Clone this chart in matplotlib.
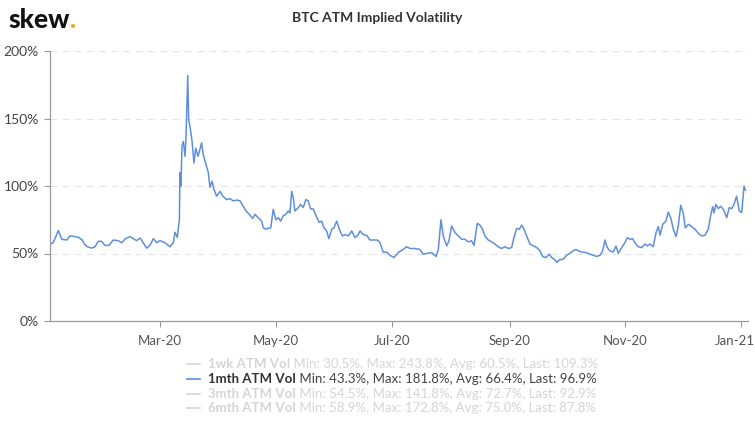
import numpy as np
import pandas as pd
import matplotlib
matplotlib.use("Agg")
import matplotlib.pyplot as plt
import matplotlib.dates as mdates
import matplotlib.transforms as mtransforms

plt.rcParams['font.family'] = ['Lato', 'DejaVu Sans']

# day offset from 2020-01-01 and 1mth ATM vol (%)
day = [2.1, 3.8, 6.5, 8.3, 10.9, 12.6, 15.3, 17, 19.1, 20.2, 21.7, 24, 25.8, 27.5, 29.3, 31, 33.2,
       35.4, 38, 39.8, 41.9, 44.2, 46, 47.7, 49.5, 51.6, 53, 54.7, 56.5, 58.3, 60, 62.6, 65.3,
       67, 67.9, 69.1, 70.2, 70.5, 71, 71.6, 72.3, 73.2, 73.7, 74.6, 75.1, 75.8, 76.8, 77.9, 78.8,
       80, 81, 81.9, 82.8, 84.2, 85.4, 86.3, 87.4, 88.4, 89.8, 91.6, 93, 95.1,
       96.8, 98.6, 100.4, 102.1, 103.8, 105.3, 107, 108.8, 110, 111.7, 113.5, 114.4, 115.8, 117,
       118.3, 119.6, 121, 122.3, 123.5, 124.9, 126.3, 127.5, 128.4, 129.3, 130.2, 131, 132.8, 134,
       135.4, 136.8, 138, 139.3, 140.7, 142.1, 143.8, 145.1, 146.3, 147.7, 148.9, 150.4, 151.6,
       153, 154.4, 156, 157.4, 159.1, 160.9, 162.6, 164.4,
       165.3, 167, 168.8, 170.5, 172.6, 174.4, 175.8, 177.5, 179.3, 181, 183.2, 185.4, 188, 189.8,
       191.6, 194.2, 196.8, 198.6, 200.4, 203, 205.3, 206.5, 207.9, 209.1, 210.9, 212.1, 213.5,
       215.3, 217, 218.8, 220.5, 222.3, 224, 225.3,
       227, 228.4, 229.8, 231, 232.8, 234.6, 236.3, 238.1, 239.8, 241.6, 243.3, 245.1, 246.3, 247.7,
       249.1, 250.4, 251.6, 253, 254.7, 256.5, 258.3, 260, 261.4, 263.2, 264.9, 266.2, 267.9, 268.9,
       270.2, 272.3, 274, 275.8, 277.5, 278.9, 280.2, 282, 284.2, 286.3, 288.1,
       289.8, 291.6, 293, 294.2, 295.4, 296.8, 298.6, 300, 301.2, 303, 304.7, 306, 307.4, 308.8,
       310, 311.7, 313.5, 315.3, 316.5, 317.9, 319.6, 321.1, 322.3, 323.2, 324.6, 326.3, 327.5,
       328.8, 330.2, 331.6, 332.8, 334.1, 335.4, 336.5, 338.1, 339.8, 341.6, 343.3, 345.1, 346.8,
       348.6, 349.8, 350.9, 351.6, 352.6, 353.8, 355.1, 356.5, 358.3, 359.6, 360.9, 362.1, 363.5,
       364.9, 366.2, 367.4, 368.1]
vol = [57, 58, 67, 60.5, 60, 63, 62.5, 62, 60, 57, 55, 54, 55, 59, 59, 56, 56,
       60, 59.5, 58, 61, 62.5, 61, 59.5, 61.5, 57, 54, 56, 61, 58, 59.5, 58, 55,
       58, 65.7, 62, 75, 110, 100, 129.5, 133, 122, 137, 181.8, 149, 144, 134, 117, 128,
       122, 127, 132, 123, 116, 110, 99, 103.6, 97.5, 92.5, 96, 92.5, 90,
       90.6, 89, 89.6, 89, 85, 81.5, 79, 76, 79, 76.5, 74, 69, 68, 68.7,
       69, 82.7, 75, 76.5, 74, 78, 79, 81.5, 80, 96, 91, 81.5, 84, 86.4,
       84, 90, 89, 83, 83, 78, 73, 74, 69, 66.7, 61, 68, 69,
       74, 68, 63, 64, 63, 66.7, 61.8, 64,
       66.7, 64, 63.5, 60, 60, 60, 58, 51, 51, 48.7, 47, 50.7, 53, 55,
       53.7, 53.7, 53, 49.5, 50, 50.7, 47.8, 53, 75, 63, 55.6, 59.4, 70.4,
       65.5, 63, 60.5, 60.5, 58.6, 59.4, 56,
       72.4, 71, 68, 63, 60, 58.6, 57, 55, 53.7, 55, 53.7, 54.4, 61.8, 68.5,
       68, 71, 68, 63, 57, 55.6, 54.4, 52, 47.8, 47, 49.5, 47, 45.3, 43.3,
       45.3, 45.8, 48.7, 50.2, 52, 53, 52, 51, 50.7, 49.5, 48.7,
       47.8, 48.7, 52, 60, 54.4, 52, 51, 55.6, 50.2, 54.4, 58, 61.8, 60.5, 61,
       58, 55, 54.4, 57, 55.6, 57, 55, 65.5, 70, 63.7, 71.6, 74, 80.7,
       76.6, 68, 62.6, 70.4, 85.7, 80, 69, 71.6, 70, 68, 65, 63, 63.5,
       68, 77.8, 84.7, 80, 86.4, 83.2, 85, 82.7, 76.6, 84, 83.2, 86.4, 92.5,
       81.5, 80.3, 100, 96.9]

legend_names = ['1wk ATM Vol', '1mth ATM Vol', '3mth ATM Vol', '6mth ATM Vol']
legend_stats = ['Min: 30.5%, Max: 243.8%, Avg: 60.5%, Last: 109.3%',
                'Min: 43.3%, Max: 181.8%, Avg: 66.4%, Last: 96.9%',
                'Min: 54.5%, Max: 141.8%, Avg: 72.7%, Last: 92.9%',
                'Min: 58.9%, Max: 172.8%, Avg: 75.0%, Last: 87.8%']
active = 1

dates = pd.Timestamp('2020-01-01') + pd.to_timedelta(day, unit='D')

fig = plt.figure(figsize=(7.55, 4.32), dpi=100)
ax = fig.add_axes([50/755, 1 - 321/432, 698/755, 270/432])

ax.plot(dates, vol, color='#5f8fdc', lw=1.1)

ax.set_ylim(0, 200)
ax.set_xlim(dates[0], pd.Timestamp('2020-01-01') + pd.Timedelta(days=369.5))
ax.set_yticks([0, 50, 100, 150, 200])
ax.set_yticklabels(['0%', '50%', '100%', '150%', '200%'])
ax.xaxis.set_major_locator(mdates.MonthLocator(bymonth=[1, 3, 5, 7, 9, 11]))
ax.xaxis.set_major_formatter(mdates.DateFormatter('%b-%y'))

for v in [50, 100, 150, 200]:
    ax.axhline(v, color='#e3e3e3', lw=0.8, ls=(0, (6, 5)), zorder=0)

for s in ['top', 'right']:
    ax.spines[s].set_visible(False)
for s in ['left', 'bottom']:
    ax.spines[s].set_color('#999999')
    ax.spines[s].set_linewidth(0.9)
ax.tick_params(axis='y', length=4, color='#999999', labelsize=10, labelcolor='#444444', pad=4)
ax.tick_params(axis='x', length=4, color='#999999', labelsize=9.5, labelcolor='#555555', pad=6)

# keep last month label inside the figure
fig.canvas.draw()
last = ax.get_xticklabels()[-1]
last.set_transform(last.get_transform() + mtransforms.ScaledTranslation(-7/100, 0, fig.dpi_scale_trans))

fig.text(0.5, 1 - 18/432, 'BTC ATM Implied Volatility', ha='center', va='center',
         fontsize=10, fontweight='bold', color='#333333')

logo = fig.text(8/755, 1 - 28/432, 'skew', ha='left', va='baseline', fontsize=19,
                fontweight='black', color='#111111')
ax.annotate('.', xy=(1, 0), xycoords=logo, xytext=(0.3, 0), textcoords='offset points',
            fontsize=19, fontweight='black', color='#f0a830', va='bottom', ha='left',
            annotation_clip=False)

rows_y = [364, 379, 394, 408]
for i, (name, stats) in enumerate(zip(legend_names, legend_stats)):
    yy = 1 - rows_y[i] / 432
    if i == active:
        lc, nc, sc = '#5f8fdc', '#333333', '#444444'
    else:
        lc, nc, sc = '#d5d5d5', '#d5d5d5', '#d5d5d5'
    fig.add_artist(plt.Line2D([187/755, 200/755], [yy, yy], color=lc, lw=1.2))
    t = fig.text(208/755, yy, name, ha='left', va='center', fontsize=9.5,
                 fontweight='bold', color=nc)
    ax.annotate(' ' + stats, xy=(1, 0.5), xycoords=t, ha='left', va='center',
                fontsize=9.5, color=sc, annotation_clip=False)

fig.savefig('out.png', dpi=100)
